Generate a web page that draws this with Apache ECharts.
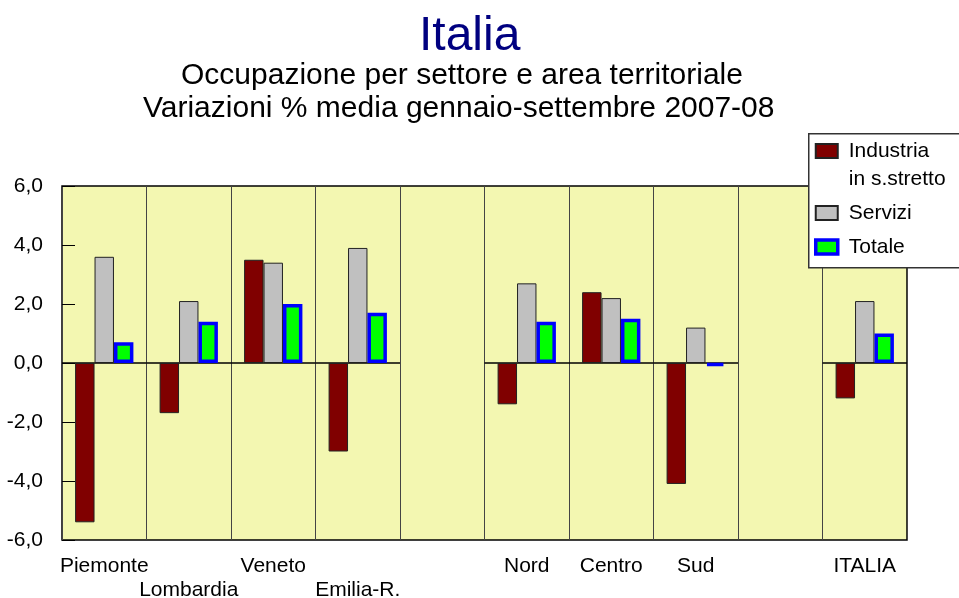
<!DOCTYPE html>
<html>
<head>
<meta charset="utf-8">
<script src="https://cdn.jsdelivr.net/npm/echarts@6/dist/echarts.min.js"></script>
<style>
html, body { margin: 0; padding: 0; background: #fff; }
#chart { width: 959px; height: 598px; }
</style>
</head>
<body>
<div id="chart"></div>
<script>
// categorie (le vuote fanno da separatore)
var categories = ['Piemonte', 'Lombardia', 'Veneto', 'Emilia-R.', '', 'Nord', 'Centro', 'Sud', '', 'ITALIA'];
var secondRow = ['Lombardia', 'Emilia-R.'];
var industria = [-5.4, -1.7, 3.5, -3.0, null, -1.4, 2.4, -4.1, null, -1.2];
var servizi = [3.6, 2.1, 3.4, 3.9, null, 2.7, 2.2, 1.2, null, 2.1];
var totale = [0.7, 1.4, 2.0, 1.7, null, 1.4, 1.5, -0.1, null, 1.0];
var yMin = -6, yMax = 6, yStep = 2;

var font = "'Liberation Sans', Arial, sans-serif";

// linea dello zero solo sulle categorie piene
var zeroData = [];
categories.forEach(function (c, i) { if (c !== '') zeroData.push([i]); });

var subStyle = { fontFamily: font, fontSize: 30, fontWeight: 'normal', color: '#000' };

var option = {
    animation: false,
    backgroundColor: '#fff',
    textStyle: { fontFamily: font },
    title: [{
        text: 'Italia',
        left: 419,
        top: 13,
        padding: 0,
        textStyle: { fontFamily: font, fontSize: 48, fontWeight: 'normal', color: '#000080' }
    }, {
        text: 'Occupazione per settore e area territoriale',
        left: 181,
        top: 61,
        padding: 0,
        textStyle: subStyle
    }, {
        text: 'Variazioni % media gennaio-settembre 2007-08',
        left: 143,
        top: 94,
        padding: 0,
        textStyle: subStyle
    }],
    graphic: [{
        type: 'rect',
        left: 808,
        top: 133,
        z: 9,
        shape: { width: 200, height: 134 },
        style: { fill: '#fff', stroke: '#333', lineWidth: 1.5 }
    }],
    legend: {
        orient: 'vertical',
        left: 814,
        top: 109,
        padding: 0,
        itemGap: 6,
        itemWidth: 22,
        itemHeight: 14,
        icon: 'rect',
        z: 10,
        selectedMode: false,
        textStyle: { fontFamily: font, fontSize: 21, lineHeight: 28, color: '#000', padding: [0, 0, 0, 6] },
        formatter: function (name) {
            // riga vuota sopra: la riga centrale resta allineata al simbolo
            return name === 'Industria' ? '\nIndustria\nin s.stretto' : name;
        },
        data: ['Industria', 'Servizi', { name: 'Totale', itemStyle: { borderWidth: 3.5 } }]
    },
    grid: {
        left: 62,
        top: 186,
        width: 845,
        height: 354,
        show: true,
        outerBoundsMode: 'none',
        containLabel: false,
        backgroundColor: '#F3F7B1',
        borderColor: '#000',
        borderWidth: 1.5
    },
    xAxis: {
        type: 'category',
        data: categories,
        axisLine: { show: false, onZero: false },
        axisTick: { show: false },
        splitLine: { show: true, interval: 0, lineStyle: { color: '#444', width: 1 } },
        axisLabel: {
            interval: 0,
            margin: 14,
            fontFamily: font,
            fontSize: 21,
            lineHeight: 24,
            color: '#000',
            formatter: function (v) {
                return secondRow.indexOf(v) >= 0 ? '\n' + v : v;
            }
        }
    },
    yAxis: {
        type: 'value',
        min: yMin,
        max: yMax,
        interval: yStep,
        axisLine: { show: false },
        axisTick: { show: true, inside: true, length: 13, lineStyle: { color: '#000' } },
        splitLine: { show: false },
        axisLabel: {
            margin: 19,
            fontFamily: font,
            fontSize: 21,
            color: '#000',
            formatter: function (v) { return v.toFixed(1).replace('.', ','); }
        }
    },
    series: [{
        name: 'zero',
        type: 'custom',
        z: 1,
        silent: true,
        data: zeroData,
        encode: { x: 0 },
        renderItem: function (params, api) {
            var c = api.coord([api.value(0), 0]);
            var w = api.size([1, 0])[0];
            return {
                type: 'line',
                shape: { x1: c[0] - w / 2, y1: c[1], x2: c[0] + w / 2, y2: c[1] },
                style: { stroke: '#000', lineWidth: 1.5 }
            };
        }
    }, {
        name: 'Industria',
        type: 'bar',
        barWidth: '23%',
        barGap: '0%',
        data: industria,
        itemStyle: { color: '#800000', borderColor: '#222', borderWidth: 1 }
    }, {
        name: 'Servizi',
        type: 'bar',
        barWidth: '23%',
        barGap: '0%',
        data: servizi,
        itemStyle: { color: '#C0C0C0', borderColor: '#222', borderWidth: 1 }
    }, {
        name: 'Totale',
        type: 'bar',
        barWidth: '23%',
        barGap: '0%',
        data: totale,
        itemStyle: { color: '#00FF00', borderColor: '#0000FF', borderWidth: 3.5 }
    }]
};

var myChart = echarts.init(document.getElementById('chart'));
myChart.setOption(option);
</script>
</body>
</html>
